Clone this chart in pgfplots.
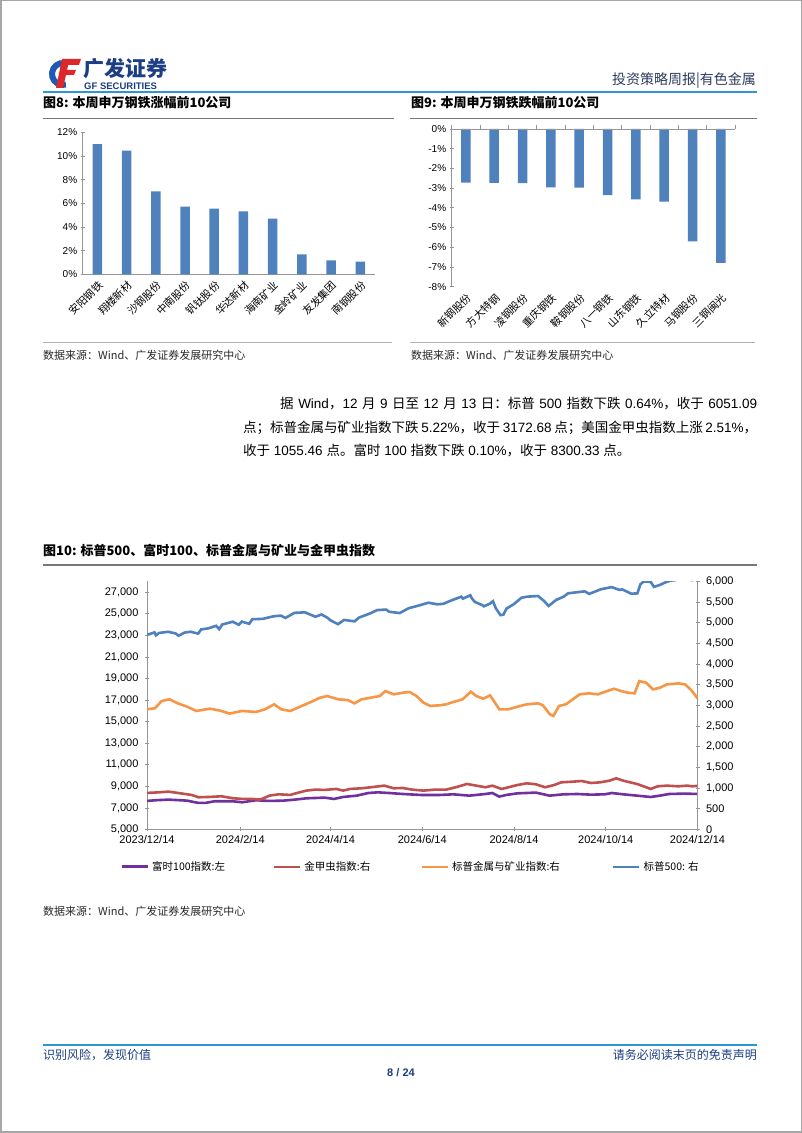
\documentclass[border=0pt]{standalone}
\usepackage{pgfplots}
\pgfplotsset{compat=1.18}
\usepackage{fontspec}
\setmainfont{Liberation Sans}
\newfontfamily\cjk{Noto Sans CJK SC}
\XeTeXlinebreaklocale "zh"
\XeTeXlinebreakskip=0pt plus 2pt minus 0.3pt
\definecolor{barblue}{RGB}{79,129,189}
\definecolor{axgray}{RGB}{150,150,150}
\definecolor{hdrblue}{RGB}{46,150,211}
\definecolor{navy}{RGB}{28,62,130}
\definecolor{capgray}{RGB}{120,120,120}
\definecolor{orng}{RGB}{247,150,70}
\definecolor{redl}{RGB}{192,80,77}
\definecolor{purp}{RGB}{112,48,160}
\definecolor{logoblue}{RGB}{30,90,180}
\definecolor{logored}{RGB}{220,40,40}
\definecolor{txtgray}{RGB}{40,40,40}
\pgfplotsset{
  myax/.style={scale only axis, axis line style={-,draw=axgray,line width=0.8pt},
    tick style={draw=axgray,line width=0.8pt}, tick align=outside, major tick length=4pt,
    ticklabel style={text=black}, scaled ticks=false}
}
\begin{document}
\begin{tikzpicture}[x=1pt,y=1pt]
\fill[white] (0,0) rectangle (802,1133);
\useasboundingbox (0,0) rectangle (802,1133);
\draw[gray!70, line width=1.5pt] (0.75,0.75) rectangle (801.25,1132.25);
% ---------- header ----------
\draw[line width=6pt, logoblue] ([shift={(60:11)}]63,1059) arc (60:285:11);
\fill[logored] (62,1074) -- (81,1074) -- (79,1068) -- (68,1068) -- (67,1063) -- (76,1063) -- (74,1058) -- (66,1058) -- (63,1045) -- (56,1045) -- cycle;
\node[anchor=west, inner sep=0, text=navy] at (83,1064) {\cjk\bfseries\fontsize{21}{22}\selectfont 广发证券};
\node[anchor=west, inner sep=0, text=navy] at (84,1047) {\bfseries\fontsize{9.5}{10}\selectfont GF SECURITIES};
\node[anchor=east, inner sep=0, text={rgb,255:red,45;green,60;blue,95}] at (756,1052) {\cjk\fontsize{14}{15}\selectfont 投资策略周报|有色金属};
\draw[hdrblue, line width=2pt] (43,1040.5) -- (757,1040.5);
% ---------- captions ----------
\node[anchor=west, inner sep=0] at (43,1030) {\cjk\bfseries\fontsize{13}{14}\selectfont 图8: 本周申万钢铁涨幅前10公司};
\node[anchor=west, inner sep=0] at (411,1030) {\cjk\bfseries\fontsize{13}{14}\selectfont 图9: 本周申万钢铁跌幅前10公司};
\draw[capgray, line width=1.8pt] (43,1014.5) -- (394,1014.5);
\draw[capgray, line width=1.8pt] (410,1014.5) -- (757,1014.5);
\draw[gray!60, line width=0.8pt] (43,790.5) -- (392,790.5);
\draw[gray!60, line width=0.8pt] (410,790.5) -- (755,790.5);
\node[anchor=west, inner sep=0, text=txtgray] at (43,778) {\cjk\fontsize{11}{12}\selectfont 数据来源：Wind、广发证券发展研究中心};
\node[anchor=west, inner sep=0, text=txtgray] at (411,778) {\cjk\fontsize{11}{12}\selectfont 数据来源：Wind、广发证券发展研究中心};
% ---------- chart 8 ----------
\begin{axis}[myax, at={(82.7pt,858.7pt)}, anchor=south west, width=292.3pt, height=142pt,
  xmin=-0.5, xmax=9.5, ymin=0, ymax=12,
  axis x line=bottom, axis y line=left, axis line style={-},
  ybar, bar width=9.5pt,
  xtick={0,...,9}, major x tick style={draw=none},
  xticklabels={安阳钢铁,翔楼新材,沙钢股份,中南股份,钒钛股份,华达新材,海南矿业,金岭矿业,友发集团,南钢股份},
  extra x ticks={-0.5,0.5,...,9.5}, extra x tick labels={},
  extra x tick style={major tick length=4pt, tick style={draw=axgray}},
  xticklabel style={rotate=45, anchor=north east, inner sep=1pt, font=\cjk\fontsize{10.5}{11}\selectfont},
  ytick={0,2,...,12}, yticklabels={0\%,2\%,4\%,6\%,8\%,10\%,12\%},
  yticklabel style={font=\fontsize{10}{11}\selectfont},
]
\addplot[fill=barblue, draw=none] coordinates {(0,11.01) (1,10.45) (2,7.01) (3,5.71) (4,5.55) (5,5.32) (6,4.70) (7,1.69) (8,1.18) (9,1.07)};
\end{axis}
% ---------- chart 9 ----------
\begin{axis}[myax, at={(451.7pt,846.3pt)}, anchor=south west, width=283.3pt, height=157.7pt,
  xmin=-0.5, xmax=9.5, ymin=-8, ymax=0,
  axis x line=bottom, axis y line=left, axis line style={-},
  x axis line style={draw=none},
  ybar, bar width=9.5pt,
  xtick={0,...,9}, major x tick style={draw=none},
  xticklabels={新钢股份,方大特钢,凌钢股份,重庆钢铁,鞍钢股份,八一钢铁,山东钢铁,久立特材,马钢股份,三钢闽光},
  xticklabel style={rotate=45, anchor=north east, inner sep=1pt, font=\cjk\fontsize{10.5}{11}\selectfont},
  ytick={-8,...,0}, yticklabels={-8\%,-7\%,-6\%,-5\%,-4\%,-3\%,-2\%,-1\%,0\%},
  yticklabel style={font=\fontsize{10}{11}\selectfont},
  clip=false,
]
\addplot[fill=barblue, draw=none] coordinates {(0,-2.72) (1,-2.73) (2,-2.74) (3,-2.96) (4,-2.98) (5,-3.35) (6,-3.57) (7,-3.69) (8,-5.70) (9,-6.79)};
\draw[axgray, line width=0.8pt] (axis cs:-0.5,0) -- (axis cs:9.5,0);
\pgfplotsinvokeforeach{-0.5,0.5,1.5,2.5,3.5,4.5,5.5,6.5,7.5,8.5,9.5}{\draw[axgray, line width=0.8pt] (axis cs:#1,0) -- ++(0pt,4pt);}
\end{axis}
% ---------- paragraph ----------
\node[anchor=base west, inner sep=0] at (280,724) {\fontsize{13.5}{16}\selectfont\makebox[477pt][s]{{\cjk 据} Wind{\cjk ，}12 {\cjk 月} 9 {\cjk 日至} 12 {\cjk 月} 13 {\cjk 日：标普} 500 {\cjk 指数下跌} 0.64\%{\cjk ，收于} 6051.09}};
\node[anchor=base west, inner sep=0] at (243,700.5) {\fontsize{13.5}{16}\selectfont\makebox[514pt][s]{{\cjk 点；标普金属与矿业指数下跌} 5.22\%{\cjk ，收于} 3172.68 {\cjk 点；美国金甲虫指数上涨} 2.51\%{\cjk ，}}};
\node[anchor=base west, inner sep=0] at (243,677) {\fontsize{13.5}{16}\selectfont {\cjk 收于} 1055.46 {\cjk 点。富时} 100 {\cjk 指数下跌} 0.10\%{\cjk ，收于} 8300.33 {\cjk 点。}};
% ---------- chart 10 ----------
\node[anchor=west, inner sep=0] at (43,582) {\cjk\bfseries\fontsize{13}{14}\selectfont 图10: 标普500、富时100、标普金属与矿业与金甲虫指数};
\draw[capgray, line width=1.8pt] (43,568) -- (757,568);
\begin{axis}[myax, at={(147pt,303.5pt)}, anchor=south west, width=550.5pt, height=248pt,
  xmin=0, xmax=366, ymin=5000, ymax=28000,
  axis x line=bottom, axis y line=left, axis line style={-},
  xtick={0,62,122,183,244,305,366},
  xticklabels={2023/12/14,2024/2/14,2024/4/14,2024/6/14,2024/8/14,2024/10/14,2024/12/14},
  ytick={5000,7000,...,27000},
  yticklabels={{5,000},{7,000},{9,000},{11,000},{13,000},{15,000},{17,000},{19,000},{21,000},{23,000},{25,000},{27,000}},
  ticklabel style={font=\fontsize{11}{12}\selectfont},
  yticklabel style={xshift=-3pt},
]
\addplot[purp, line width=2.6pt] coordinates {
(0,7648) (5.2,7709) (14.3,7770) (26.6,7678) (34.2,7463) (38.8,7463) (44.9,7617) (57.1,7617) (63.2,7524) (72.4,7709) (81.5,7648) (90.7,7678) (98.3,7770) (106,7893) (118.1,7955) (124.3,7832) (130.4,8016) (139.5,8139) (147.1,8385) (153.5,8445) (160.9,8385) (170,8293) (182.3,8201) (194.5,8201) (203.6,8262) (214.3,8139) (225,8293) (229.6,8385) (234.2,8047) (238.7,8201) (246.4,8355) (258.6,8420) (267.7,8139) (276.9,8262) (286.1,8293) (295.2,8231) (304.4,8262) (309,8385) (316.6,8262) (325.8,8139) (334.9,8016) (341,8139) (347.1,8293) (356.3,8324) (366,8300)};
\end{axis}
\begin{axis}[myax, at={(147pt,303.5pt)}, anchor=south west, width=550.5pt, height=248pt,
  xmin=0, xmax=366, ymin=0, ymax=6000,
  axis x line=none, axis y line=right, axis line style={-},
  ytick={0,500,...,6000},
  yticklabels={0,500,{1,000},{1,500},{2,000},{2,500},{3,000},{3,500},{4,000},{4,500},{5,000},{5,500},{6,000}},
  ticklabel style={font=\fontsize{11}{12}\selectfont},
  yticklabel style={xshift=3pt},
  legend columns=4,
  legend style={at={(-0.049,-0.151)}, anchor=west, draw=none, fill=none, inner sep=0pt,
    nodes={inner sep=0pt}, font=\cjk\fontsize{10.5}{11}\selectfont,
    /tikz/every odd column/.style={column sep=3pt}},
  legend cell align=left,
  legend image code/.code={\draw[#1] (0pt,0pt) -- (26pt,0pt);},
]
\addlegendimage{purp, line width=3pt}
\addlegendentry{\makebox[120.6pt][l]{富时100指数:左}}
\addplot[redl, line width=2.6pt] coordinates {
(0,884) (8.2,900) (14.3,916) (20.5,884) (29.6,836) (34.2,780) (41.8,788) (49.5,804) (57.1,756) (63.2,740) (69.3,740) (75.4,724) (81.5,820) (87.6,852) (95.2,836) (99.8,884) (106,941) (112,965) (118.1,957) (125.8,981) (130.4,941) (135,981) (142.6,997) (148.7,1021) (157.8,1061) (164,997) (170,1005) (176.2,965) (183.8,941) (191.4,965) (199,965) (205.2,1021) (212.8,1101) (218.9,1061) (225,1021) (229.6,1061) (235.7,981) (240.3,1021) (246.4,1077) (252.5,1117) (258.6,1093) (264.7,1021) (270.8,1077) (275.4,1141) (283,1157) (289.1,1173) (295.2,1125) (301.3,1141) (307.4,1181) (312,1238) (316.6,1181) (321.2,1141) (325.8,1101) (331.9,1021) (334.9,981) (339.5,1045) (345.6,1061) (353.2,1045) (359.3,1061) (362.4,1045) (366,1055)};
\addlegendentry{\makebox[116pt][l]{金甲虫指数:右}}
\addplot[orng, line width=2.6pt] coordinates {
(0,2908) (5.2,2932) (9.8,3109) (15,3149) (20.5,3052) (26.6,2972) (32.7,2868) (41.9,2924) (49.5,2868) (54.7,2804) (63.2,2868) (72.4,2844) (78.5,2908) (84.6,3029) (89.2,2908) (95.3,2868) (102.9,2989) (109,3085) (115.1,3189) (119.7,3229) (127.3,3149) (133.4,3133) (138,3052) (142.6,3149) (148.7,3189) (154.8,3229) (158.5,3350) (164,3270) (170.1,3310) (174.6,3326) (179.2,3229) (183.8,3069) (188.4,2989) (194.5,3005) (199.1,3029) (203.7,3085) (209.8,3149) (215.3,3334) (218.9,3229) (223.5,3165) (228.1,3245) (234.2,2908) (240.3,2908) (246.4,2972) (252.5,3029) (260.1,3052) (263.2,3005) (267.8,2788) (270.2,2748) (273.9,2989) (278.5,3029) (283.1,3149) (287.6,3270) (293.7,3294) (299.8,3270) (305.9,3350) (310.5,3406) (315.1,3350) (319.7,3310) (324.2,3294) (327.3,3591) (331.9,3550) (336.4,3390) (341,3430) (345.6,3510) (353.2,3535) (357.8,3510) (361.8,3374) (366,3173)};
\addlegendentry{\makebox[160pt][l]{标普金属与矿业指数:右}}
\addplot[barblue, line width=2.6pt] coordinates {
(0,4719) (1,4719) (5,4768) (6,4698) (8,4755) (14,4783) (19,4743) (21,4688) (25,4764) (29,4784) (34,4739) (36,4840) (41,4868) (46,4928) (48,4846) (50,4959) (57,5027) (61,4953) (63,5030) (68,4976) (70,5087) (77,5096) (84,5157) (89,5175) (92,5117) (98,5241) (105,5254) (112,5147) (116,5202) (120,5123) (122,5061) (127,4967) (131,5070) (138,5036) (141,5128) (148,5223) (153,5308) (159,5321) (161,5268) (168,5236) (174,5354) (181,5421) (187,5487) (193,5448) (197,5460) (202,5537) (209,5633) (210,5585) (215,5667) (216,5589) (218,5505) (223,5427) (224,5400) (228,5464) (230,5522) (232,5347) (235,5186) (237,5199) (239,5344) (244,5455) (249,5608) (253,5634) (260,5648) (264,5529) (267,5408) (272,5554) (277,5633) (280,5714) (287,5745) (291,5762) (294,5700) (302,5815) (309,5864) (314,5797) (316,5808) (322,5705) (326,5712) (328,5929) (330,5996) (333,6001) (335,5985) (337,5870) (341,5917) (344,5969) (348,6021) (351,6032) (356,6086) (358,6090) (362,6034) (365,6051)};
\addlegendentry{标普500: 右}
\end{axis}
\node[anchor=west, inner sep=0, text=txtgray] at (43,222) {\cjk\fontsize{11}{12}\selectfont 数据来源：Wind、广发证券发展研究中心};
% ---------- footer ----------
\draw[hdrblue, line width=2pt] (43,88) -- (757,88);
\node[anchor=west, inner sep=0, text=navy] at (43,78) {\cjk\fontsize{12}{13}\selectfont 识别风险，发现价值};
\node[anchor=east, inner sep=0, text=navy] at (757,78) {\cjk\fontsize{12}{13}\selectfont 请务必阅读末页的免责声明};
\node[inner sep=0, text=navy] at (401,60) {\bfseries\fontsize{11}{12}\selectfont 8 / 24};
\end{tikzpicture}
\end{document}
